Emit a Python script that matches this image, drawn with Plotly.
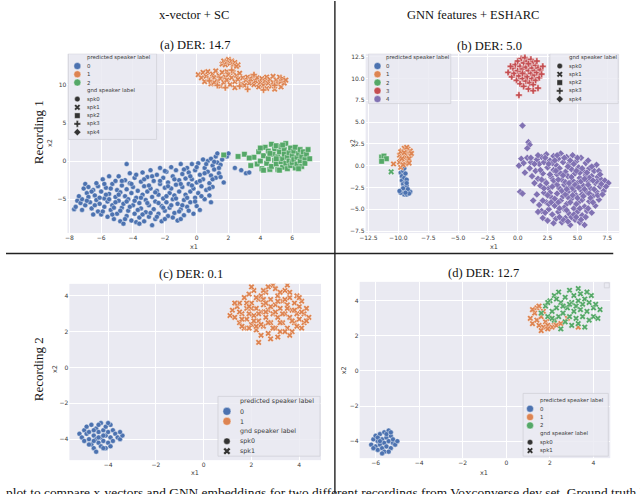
import plotly.graph_objects as go

W, H = 640, 494

# ---- data ----
PALETTE = ["#4C72B0", "#DD8452", "#55A868", "#C44E52", "#8172B3"]
SYMBOLS = ["circle", "x", "square", "cross", "diamond"]
pred_labels = ["0", "1", "2", "3", "4"]
gnd_labels = ["spk0", "spk1", "spk2", "spk3", "spk4"]

# (a) x-vector + SC, recording 1
a_pred0_spk0 = [
    (-7.7, -6.3), (-7.6, -6.0), (-7.5, -5.2), (-7.3, -5.5), (-7.2, -5.0), (-7.0, -5.8), (-7.1, -3.6), (-7.0, -3.0),
    (-6.9, -4.2), (-6.8, -4.7), (-6.7, -5.4), (-6.6, -6.2), (-6.5, -3.8), (-6.4, -4.5), (-6.3, -5.1), (-6.2, -6.6),
    (-6.2, -3.3), (-6.1, -5.6), (-6.0, -4.0), (-6.0, -7.0), (-5.9, -2.4), (-5.8, -4.9), (-5.8, -6.0), (-5.7, -3.5),
    (-5.6, -5.3), (-5.6, -7.3), (-5.5, -2.0), (-5.5, -4.3), (-5.4, -6.4), (-5.3, -3.0), (-5.3, -5.8), (-5.2, -7.6),
    (-5.1, -2.6), (-5.1, -4.7), (-5.0, -3.8), (-5.0, -6.9), (-4.9, -5.2), (-4.9, -2.0), (-4.8, -7.9), (-4.8, -4.1),
    (-4.7, -6.1), (-4.7, -3.2), (-4.6, -5.6), (-4.6, -8.2), (-4.5, -2.5), (-4.5, -4.6), (-4.4, -7.2), (-4.4, -3.7),
    (-4.3, -6.5), (-4.3, -5.0), (-4.2, -1.6), (-4.2, -2.9), (-4.1, -7.8), (-4.1, -4.2), (-4.0, -5.8), (-4.0, -3.4),
    (-3.9, -6.9), (-3.9, -2.2), (-3.8, -4.8), (-3.8, -8.0), (-4.4, -0.4), (-3.7, -3.9), (-3.6, -5.5), (-3.6, -7.4),
    (-3.5, -2.7), (-3.5, -6.2), (-3.4, -4.4), (-3.4, -1.5), (-3.3, -7.9), (-3.3, -3.3), (-3.2, -5.1), (-3.2, -6.7),
    (-3.1, -2.1), (-3.1, -4.0), (-3.0, -7.3), (-3.0, -5.8), (-2.9, -1.2), (-2.9, -3.6), (-2.8, -8.4), (-2.8, -4.7),
    (-2.7, -6.3), (-2.7, -2.6), (-2.6, -5.3), (-2.6, -7.6), (-2.5, -1.8), (-2.5, -3.9), (-2.4, -6.9), (-2.4, -4.4),
    (-2.3, -0.9), (-2.3, -3.0), (-2.2, -5.9), (-2.2, -7.9), (-2.1, -2.2), (-2.1, -4.9), (-2.0, -6.5), (-2.0, -3.5),
    (-1.9, -1.4), (-1.9, -5.4), (-1.8, -7.2), (-1.8, -2.8), (-1.7, -4.2), (-1.7, -6.1), (-1.6, -0.8), (-1.6, -3.6),
    (-1.5, -5.0), (-1.5, -2.0), (-1.4, -6.8), (-1.4, -4.5), (-1.3, -1.2), (-1.3, -3.1), (-1.2, -7.8), (-1.2, -5.6),
    (-1.1, -2.5), (-1.1, -4.0), (-1.0, -0.4), (-1.0, -6.3), (-0.9, -3.4), (-0.9, -1.7), (-0.8, -5.1), (-0.8, -7.1),
    (-0.7, -2.3), (-0.7, -4.4), (-0.6, -0.9), (-0.6, -6.0), (-0.5, -3.0), (-0.5, -1.5), (-0.4, -5.4), (-0.4, -4.0),
    (-0.3, -0.4), (-0.3, -2.4), (-0.2, -6.9), (-0.2, -3.6), (-0.1, -1.2), (-0.1, -4.8), (0.0, -5.9), (0.0, -2.8),
    (0.1, -0.3), (0.1, -4.2), (0.2, -1.8), (0.2, -6.4), (0.3, -3.3), (0.4, 0.2), (0.4, -2.4), (0.5, -5.0),
    (0.5, -0.9), (0.6, -3.8), (0.7, -1.4), (0.7, 0.0), (0.8, -2.9), (0.8, -4.5), (0.9, 0.3), (0.9, -1.9),
    (1.0, -0.6), (1.0, -3.4), (1.1, -1.1), (1.2, 0.6), (1.2, -2.2), (1.3, 1.0), (1.3, -0.2), (1.4, -1.6),
    (1.5, -0.5), (1.6, 0.2), (1.7, -2.8), (1.9, 0.6), (2.0, 1.0), (2.4, -0.9), (2.8, -1.2), (3.1, -1.6),
    (3.3, -1.5), (0.9, -5.4),
    (-7.4, -4.6), (-7.2, -6.4), (-6.9, -5.2), (-6.8, -3.4), (-6.6, -4.0), (-6.4, -5.8), (-6.3, -2.9), (-6.1, -4.8),
    (-5.9, -6.6), (-5.8, -3.0), (-5.7, -4.4), (-5.5, -5.0), (-5.4, -3.6), (-5.2, -6.1), (-5.1, -5.4), (-4.9, -4.4),
    (-4.8, -6.5), (-4.7, -2.6), (-4.5, -7.6), (-4.4, -5.3), (-4.2, -6.0), (-4.1, -3.0), (-3.9, -5.2), (-3.8, -1.8),
    (-3.7, -6.4), (-3.5, -4.8), (-3.4, -7.0), (-3.3, -2.4), (-3.1, -5.5), (-3.0, -3.2), (-2.9, -6.8), (-2.8, -2.0),
    (-2.6, -4.1), (-2.5, -7.3), (-2.4, -5.5), (-2.3, -2.6), (-2.1, -6.1), (-2.0, -1.3), (-1.9, -4.6), (-1.8, -3.3),
    (-1.6, -5.8), (-1.5, -7.4), (-1.4, -2.4), (-1.3, -4.9), (-1.1, -6.6), (-1.0, -3.0), (-0.9, -5.8), (-0.8, -1.1),
    (-0.6, -4.8), (-0.5, -6.5), (-0.4, -2.0), (-0.3, -3.2), (-0.1, -5.3), (0.0, -0.8), (0.2, -2.6), (0.3, -4.6),
    (0.5, -1.6), (0.6, -0.4), (0.8, -3.6), (1.0, -2.4), (1.1, -0.1), (1.4, -0.9), (1.5, -2.1), (-6.5, -7.0),
    (-5.3, -7.0), (-3.6, -8.2), (-2.0, -7.6), (-1.0, -7.6),
]
a_pred1_spk1 = [
    (0.1, 11.3), (0.3, 10.9), (0.4, 11.6), (0.5, 10.4), (0.6, 11.1), (0.7, 11.7), (0.8, 10.8), (0.9, 10.1),
    (1.0, 11.4), (1.1, 10.9), (1.2, 11.8), (1.3, 10.5), (1.4, 11.2), (1.5, 9.8), (1.5, 10.8), (1.6, 11.6),
    (1.7, 10.3), (1.8, 11.0), (1.9, 11.7), (1.9, 10.6), (2.0, 11.3), (2.1, 10.0), (2.2, 10.9), (2.3, 11.6),
    (2.4, 10.4), (2.5, 11.2), (2.6, 10.7), (2.7, 11.5), (2.8, 10.1), (2.9, 10.9), (1.6, 12.7), (1.7, 13.1),
    (1.8, 12.6), (1.9, 13.0), (2.0, 13.3), (2.1, 12.8), (2.2, 13.1), (2.3, 12.6), (2.4, 12.9), (2.6, 12.6),
    (2.5, 12.4), (3.1, 10.6), (3.2, 11.0), (3.3, 10.2), (3.4, 10.7), (3.5, 11.1), (3.6, 10.0), (3.7, 10.5),
    (3.8, 10.9), (3.9, 9.7), (4.0, 10.3), (4.1, 10.8), (4.2, 9.9), (4.3, 10.5), (4.4, 11.0), (4.4, 9.5),
    (4.5, 10.2), (4.6, 10.7), (4.7, 9.8), (4.8, 11.1), (4.8, 10.3), (4.9, 9.4), (5.0, 10.6), (5.1, 10.1),
    (5.2, 11.0), (5.3, 9.7), (5.3, 10.4), (5.4, 10.8), (5.5, 10.2), (5.6, 10.6), (2.4, 9.6), (3.0, 9.9),
    (1.1, 10.3),
]
a_pred1_spk3 = [(1.3, 9.9), (1.8, 9.6), (2.7, 9.8), (3.2, 9.4), (4.2, 9.3), (4.9, 9.9), (0.8, 10.5), (3.6, 11.3), (2.2, 11.9)]
a_pred2_spk2 = [
    (1.7, 0.8), (2.6, 0.6), (3.0, 0.9), (3.4, -0.6), (3.6, 0.5), (3.9, 1.2), (3.8, -0.4), (4.0, 0.0),
    (4.1, -1.0), (4.2, 0.7), (4.3, 1.8), (4.4, -0.3), (4.5, 0.3), (4.5, 1.3), (4.6, -1.1), (4.7, 2.2),
    (4.7, -0.7), (4.8, 0.9), (4.9, 0.1), (4.9, 1.6), (5.0, -0.4), (5.0, 2.0), (5.1, -1.1), (5.1, 0.6),
    (5.2, 1.2), (5.3, -0.1), (5.3, 1.9), (5.4, 0.3), (5.4, -0.8), (5.5, 1.5), (5.5, 0.9), (5.6, -0.3),
    (5.6, 2.3), (5.7, 0.5), (5.7, -1.0), (5.8, 1.1), (5.8, 0.0), (5.9, 1.7), (5.9, -0.6), (6.0, 0.7),
    (6.0, -0.2), (6.1, 1.3), (6.1, 0.2), (6.2, -0.9), (6.2, 1.8), (6.3, 0.5), (6.3, -0.4), (6.4, 1.0),
    (6.5, 0.0), (6.5, 1.5), (6.6, -0.7), (6.6, 0.6), (6.7, 1.2), (6.8, 0.2), (6.8, -0.3), (6.9, 0.9),
    (7.0, 1.5), (7.1, 0.3), (4.2, -1.2), (5.2, -1.2), (4.6, 1.0), (5.0, 0.3), (3.3, 0.4), (6.4, -1.0),
    (5.4, 2.1), (4.0, 1.7),
]

# (b) GNN features + ESHARC, recording 1
b_pred0_spk0 = [
    (-9.8, -0.8), (-9.7, -1.2), (-9.6, -0.6), (-9.7, -1.7), (-9.5, -1.4), (-9.6, -2.1), (-9.4, -1.9), (-9.5, -2.5),
    (-9.7, -2.8), (-9.3, -2.3), (-9.6, -3.0), (-9.4, -2.9), (-9.2, -3.1), (-9.5, -3.3), (-9.0, -3.0), (-9.3, -3.3),
    (-9.8, -3.1), (-9.4, -0.9), (-9.3, -1.6), (-9.6, -2.6), (-9.2, -2.7), (-9.5, -0.3), (-9.1, -3.2), (-9.9, -2.9),
    (-9.4, -3.1), (-9.3, -2.0),
]
b_pred1_spk1 = [
    (-10.4, 0.2), (-9.8, -0.2), (-9.9, 0.4), (-9.8, 0.9), (-9.6, 1.3), (-9.7, 1.7), (-9.5, 0.7), (-9.4, 1.0),
    (-9.3, 1.5), (-9.2, 0.5), (-9.5, 2.0), (-9.2, 1.9), (-9.0, 1.2), (-9.1, 0.8), (-9.4, 0.2), (-9.9, 1.2),
    (-9.0, 1.7), (-9.6, 0.1), (-9.3, 2.1), (-8.9, 1.4), (-9.8, 1.6), (-9.5, 1.5), (-9.1, 0.3), (-9.7, 0.8),
]
b_pred2_spk2 = [(-11.4, 1.0), (-11.2, 1.1), (-11.0, 0.8), (-11.4, 0.5)]
b_pred2_spk1 = [(-10.6, -0.7)]
b_pred3_spk3 = [
    (-0.8, 10.7), (-0.5, 10.2), (-0.4, 11.2), (-0.3, 10.6), (-0.2, 11.6), (-0.1, 9.8), (0.0, 10.9), (0.0, 12.0),
    (0.1, 10.3), (0.2, 11.4), (0.2, 9.4), (0.3, 10.8), (0.3, 12.3), (0.4, 10.0), (0.4, 11.1), (0.5, 11.8),
    (0.5, 9.1), (0.6, 10.5), (0.6, 12.4), (0.7, 9.7), (0.7, 11.3), (0.8, 10.2), (0.8, 12.0), (0.9, 10.9),
    (0.9, 8.8), (1.0, 11.6), (1.0, 9.5), (1.1, 10.6), (1.1, 12.2), (1.2, 10.0), (1.2, 11.2), (1.3, 9.3),
    (1.3, 11.9), (1.4, 10.4), (1.4, 10.9), (1.5, 11.5), (1.5, 9.8), (1.6, 10.7), (1.7, 11.2), (1.7, 8.9),
    (1.8, 10.1), (1.9, 11.0), (2.0, 10.5), (2.1, 11.4), (0.1, 8.1), (0.4, 10.6), (0.9, 11.7), (1.6, 12.0),
    (-0.6, 11.4), (1.3, 8.6),
]
b_pred4_spk4 = [
    (0.4, 4.6), (0.9, 2.7), (1.0, 2.4), (0.8, 2.0), (0.3, 0.8), (0.1, 0.0), (0.5, 0.3), (0.8, 0.9),
    (1.0, -0.3), (1.1, 0.4), (0.6, -0.8), (0.2, -3.0), (0.4, -3.2), (1.5, -0.6), (1.6, 0.7), (1.7, -1.5),
    (1.8, 0.2), (1.9, -2.3), (2.0, 1.0), (2.1, -0.9), (2.2, -3.1), (2.2, 0.4), (2.3, -1.8), (2.4, -4.2),
    (2.4, 1.3), (2.5, -0.2), (2.6, -2.6), (2.6, -5.0), (2.7, 0.6), (2.8, -1.3), (2.8, -3.6), (2.9, -5.6),
    (3.0, -0.5), (3.0, 1.1), (3.1, -2.1), (3.1, -4.6), (3.2, 0.1), (3.2, -6.1), (3.3, -1.0), (3.3, -3.2),
    (3.4, 0.8), (3.4, -5.3), (3.5, -2.6), (3.5, -0.3), (3.6, -4.0), (3.6, 1.4), (3.7, -1.6), (3.7, -6.5),
    (3.8, -3.5), (3.8, 0.4), (3.9, -5.0), (3.9, -2.2), (4.0, -0.7), (4.0, -6.0), (4.1, 1.0), (4.1, -4.4),
    (4.2, -1.2), (4.2, -3.0), (4.3, 0.2), (4.3, -5.5), (4.4, -2.4), (4.4, -6.8), (4.5, -0.4), (4.5, -3.8),
    (4.6, -1.7), (4.6, 1.2), (4.7, -4.9), (4.7, -2.9), (4.8, -0.9), (4.8, -6.2), (4.9, 0.5), (4.9, -3.4),
    (5.0, -2.0), (5.0, -5.3), (5.1, -0.2), (5.1, -4.2), (5.2, -1.4), (5.2, -6.5), (5.3, -2.8), (5.3, 0.9),
    (5.4, -3.9), (5.4, -5.7), (5.5, -0.6), (5.5, -2.3), (5.6, -4.7), (5.6, -6.8), (5.7, -1.1), (5.7, 0.3),
    (5.8, -3.1), (5.8, -5.2), (5.9, -1.8), (6.0, -4.1), (6.0, -0.3), (6.1, -2.6), (6.2, -5.4), (6.2, -1.2),
    (6.3, -3.5), (6.4, -0.6), (6.5, -2.0), (6.5, -4.6), (6.6, -3.0), (6.7, -1.3), (6.8, -3.9), (6.9, -2.4),
    (7.0, -1.6), (7.2, -2.9), (7.3, -1.7), (7.6, -2.0), (1.2, -1.2), (1.4, -2.0), (1.6, -3.3), (1.8, -4.5),
    (2.0, -5.2), (1.3, -4.0), (2.1, -6.0), (2.5, -6.3), (3.0, -6.6), (1.7, -5.3), (2.3, 0.9), (2.9, 0.3),
    (3.6, -0.9), (4.4, 0.6), (5.0, 0.9), (5.9, 0.6), (6.6, 0.1), (6.8, -0.6), (4.0, -1.9), (3.3, -2.2),
    (2.7, -3.1), (4.6, -2.6), (5.4, -3.3), (3.9, -4.8), (4.9, -4.4), (3.4, -4.2), (2.4, -2.0), (6.0, -3.2),
    (5.2, -0.8), (3.8, -6.2), (4.5, -5.9), (5.9, -4.9), (4.2, -3.6), (3.0, -1.7), (1.9, -0.5), (2.6, -4.4),
    (1.1, 0.9), (1.4, 0.2), (1.7, 1.2), (2.0, -1.6), (2.2, -2.6), (2.5, -3.4), (2.7, -1.0), (2.9, -2.4),
    (3.1, -3.8), (3.2, -0.6), (3.4, -1.6), (3.5, -4.9), (3.7, -2.9), (3.8, -1.1), (4.0, -3.3), (4.1, -5.1),
    (4.2, -0.1), (4.3, -2.0), (4.4, -4.2), (4.5, -1.3), (4.6, -3.4), (4.7, -5.6), (4.8, -2.2), (4.9, -0.6),
    (5.0, -3.7), (5.1, -2.5), (5.2, -4.9), (5.3, -1.8), (5.4, -0.3), (5.5, -3.5), (5.6, -2.7), (5.7, -5.9),
    (5.8, -0.8), (5.9, -2.2), (6.0, -1.4), (6.1, -3.7), (6.2, -0.1), (6.3, -4.2), (6.4, -2.7), (6.6, -1.8),
    (6.7, -3.4), (7.0, -2.1), (7.1, -3.3), (6.9, -1.0), (7.4, -2.4), (3.9, 0.9), (3.3, 1.2), (2.6, 0.2),
    (2.1, -4.0), (2.3, -5.4), (2.8, -4.2), (3.5, -5.9), (4.2, -6.4), (4.9, -5.9), (5.3, -6.2), (6.3, -1.7),
    (3.1, 0.6), (4.7, 0.2), (5.6, -1.5), (4.1, -2.7),
]

# (c) x-vector + SC, recording 2
c_pred0_spk0 = [
    (-5.2, -3.7), (-5.1, -3.9), (-5.0, -3.5), (-5.0, -4.1), (-4.9, -3.7), (-4.9, -3.3), (-4.8, -4.0), (-4.8, -3.6),
    (-4.7, -4.3), (-4.7, -3.2), (-4.6, -3.8), (-4.6, -4.5), (-4.5, -3.4), (-4.5, -4.0), (-4.5, -4.7), (-4.4, -3.6),
    (-4.4, -4.2), (-4.3, -3.1), (-4.3, -3.9), (-4.3, -4.4), (-4.2, -3.5), (-4.2, -4.1), (-4.1, -3.3), (-4.1, -3.8),
    (-4.1, -4.5), (-4.0, -3.6), (-4.0, -4.2), (-3.9, -3.2), (-3.9, -3.9), (-3.8, -3.5), (-3.8, -4.1), (-3.7, -3.7),
    (-3.6, -3.9), (-3.5, -4.0), (-3.4, -3.8), (-3.5, -3.6), (-4.6, -3.5), (-4.4, -3.2), (-4.0, -3.1), (-4.8, -4.3),
    (-4.2, -4.5), (-3.9, -4.4), (-4.6, -4.1), (-4.4, -3.9), (-4.2, -3.8),
]
c_pred1_spk1 = [
    (1.1, 2.9), (1.2, 3.2), (1.3, 2.8), (1.4, 3.4), (1.5, 2.5), (1.5, 3.6), (1.6, 3.0), (1.7, 3.9),
    (1.7, 2.2), (1.8, 3.3), (1.8, 2.7), (1.9, 4.1), (1.9, 3.0), (2.0, 2.4), (2.0, 3.6), (2.1, 2.9),
    (2.1, 4.3), (2.2, 3.3), (2.2, 2.1), (2.3, 3.8), (2.3, 1.4), (2.3, 2.6), (2.4, 3.1), (2.4, 4.0),
    (2.5, 2.3), (2.5, 3.5), (2.6, 2.8), (2.6, 4.2), (2.7, 1.9), (2.7, 3.2), (2.8, 3.8), (2.8, 2.5),
    (2.9, 3.0), (2.9, 4.6), (3.0, 2.2), (3.0, 3.5), (3.1, 2.8), (3.1, 4.0), (3.2, 3.3), (3.2, 2.0),
    (3.3, 3.7), (3.3, 2.5), (3.4, 3.0), (3.4, 4.3), (3.5, 2.2), (3.5, 3.5), (3.6, 2.8), (3.6, 3.9),
    (3.7, 3.2), (3.7, 2.0), (3.8, 3.6), (3.8, 2.5), (3.9, 3.0), (3.9, 4.0), (4.0, 2.7), (4.0, 3.4),
    (4.1, 2.2), (4.1, 3.7), (4.2, 3.0), (4.2, 2.5), (4.3, 3.3), (4.4, 2.8), (2.0, 4.5), (2.5, 4.3),
    (2.2, 2.3), (1.6, 2.3), (3.0, 4.4), (3.5, 4.6), (2.8, 1.6), (3.6, 1.8),
    (1.3, 3.6), (1.5, 3.1), (1.6, 2.7), (1.8, 3.6), (1.9, 2.2), (2.0, 3.3), (2.1, 2.6), (2.2, 3.9),
    (2.3, 3.0), (2.4, 2.4), (2.5, 3.8), (2.6, 3.1), (2.7, 2.5), (2.7, 4.5), (2.8, 3.4), (2.9, 2.2),
    (3.0, 3.1), (3.1, 3.7), (3.2, 2.5), (3.2, 4.2), (3.3, 3.0), (3.4, 2.0), (3.5, 3.3), (3.6, 4.2),
    (3.7, 2.6), (3.8, 3.2), (3.9, 2.3), (4.0, 3.9), (4.1, 3.1), (4.3, 2.6), (2.4, 1.8), (3.1, 1.7),
    (1.9, 3.4), (2.6, 3.6), (3.4, 3.8),
]

# (d) GNN features + ESHARC, recording 2
d_pred0_spk0 = [
    (-6.2, -4.2), (-6.1, -3.9), (-6.0, -4.3), (-6.0, -3.7), (-5.9, -4.0), (-5.9, -4.5), (-5.8, -3.6), (-5.8, -4.2),
    (-5.7, -3.9), (-5.7, -4.4), (-5.6, -3.5), (-5.6, -4.1), (-5.6, -4.6), (-5.5, -3.8), (-5.5, -4.3), (-5.4, -3.4),
    (-5.4, -4.0), (-5.3, -4.4), (-5.3, -3.7), (-5.2, -4.1), (-5.2, -3.9), (-5.1, -4.2), (-5.0, -4.0), (-5.9, -3.8),
    (-5.7, -4.7), (-5.4, -4.6), (-6.1, -4.4), (-5.5, -3.6), (-5.8, -4.0), (-5.3, -3.5),
]
d_pred1_spk1 = [
    (1.1, 3.0), (1.2, 2.7), (1.3, 3.3), (1.4, 2.9), (1.4, 3.6), (1.5, 2.6), (1.6, 3.1), (1.7, 2.5),
    (1.7, 3.4), (1.8, 2.8), (1.9, 2.6), (2.0, 3.0), (2.1, 2.5), (2.2, 2.8), (2.3, 2.6), (1.5, 3.7),
    (1.2, 3.5), (1.9, 2.4), (3.3, 2.5), (2.5, 2.7), (2.8, 3.0), (1.6, 2.3),
]
d_pred2_spk1 = [
    (1.6, 3.3), (1.8, 3.7), (1.9, 3.1), (2.0, 4.0), (2.1, 3.4), (2.2, 2.9), (2.2, 4.3), (2.3, 3.6),
    (2.4, 3.1), (2.4, 4.5), (2.5, 2.4), (2.5, 3.9), (2.6, 3.3), (2.7, 4.2), (2.7, 2.8), (2.8, 3.6),
    (2.9, 4.6), (2.9, 3.1), (3.0, 3.9), (3.0, 2.6), (3.1, 3.4), (3.1, 4.3), (3.2, 3.0), (3.2, 3.7),
    (3.3, 4.0), (3.3, 2.7), (3.4, 3.5), (3.4, 4.4), (3.5, 3.1), (3.5, 3.8), (3.6, 2.5), (3.6, 4.1),
    (3.7, 3.4), (3.8, 3.9), (3.8, 2.9), (3.9, 4.3), (4.0, 3.6), (4.0, 3.1), (4.1, 3.8), (4.2, 3.0),
    (4.3, 3.5), (2.3, 4.1), (2.6, 3.7), (2.9, 3.8), (3.3, 4.7), (1.9, 3.9), (2.1, 3.0), (3.7, 4.5),
]

# ---- panel geometry (pixels) ----
panels = {
    "a": dict(n="", px=(62, 317), py=(53, 233), xr=(-8.12, 7.75), yr=(-9.43, 14.04), dx=2, dy=5, fmt=None),
    "b": dict(n="2", px=(363, 619), py=(53, 233), xr=(-12.74, 8.5), yr=(-7.73, 12.84), dx=2.5, dy=2.5, fmt=".1f"),
    "c": dict(n="3", px=(64, 318), py=(284, 461), xr=(-5.62, 4.91), yr=(-5.17, 4.67), dx=2, dy=2, fmt=None),
    "d": dict(n="4", px=(357, 610), py=(282, 459), xr=(-6.73, 4.77), yr=(-4.97, 5.08), dx=2, dy=2, fmt=None),
}

groups = [
    ("a", a_pred0_spk0, 0, 0), ("a", a_pred1_spk1, 1, 1), ("a", a_pred1_spk3, 1, 3), ("a", a_pred2_spk2, 2, 2),
    ("b", b_pred0_spk0, 0, 0), ("b", b_pred1_spk1, 1, 1), ("b", b_pred2_spk2, 2, 2), ("b", b_pred2_spk1, 2, 1),
    ("b", b_pred3_spk3, 3, 3), ("b", b_pred4_spk4, 4, 4),
    ("c", c_pred0_spk0, 0, 0), ("c", c_pred1_spk1, 1, 1),
    ("d", d_pred0_spk0, 0, 0), ("d", d_pred1_spk1, 1, 1), ("d", d_pred2_spk1, 2, 1),
]

SANS = "DejaVu Sans"
SERIF = "Liberation Serif"
TXT = "#3a3a3a"


def fx(x):
    return x / W


def fy(y):
    return 1 - y / H


def to_data(p, x, y):
    x0, x1 = p["px"]
    y0, y1 = p["py"]
    dx = p["xr"][0] + (x - x0) / (x1 - x0) * (p["xr"][1] - p["xr"][0])
    dy = p["yr"][1] - (y - y0) / (y1 - y0) * (p["yr"][1] - p["yr"][0])
    return dx, dy


def label(text, x, y, size, family=SANS, color=TXT, angle=0, xanchor="center"):
    return dict(x=fx(x), y=fy(y), xref="paper", yref="paper", text=text, showarrow=False,
                xanchor=xanchor, yanchor="middle", textangle=angle,
                font=dict(family=family, size=size, color=color))


fig = go.Figure()
layout = dict(
    width=W, height=H, margin=dict(l=0, r=0, t=0, b=0),
    paper_bgcolor="white", plot_bgcolor="#EAEAF2", showlegend=False,
)
annotations = []
shapes = []

for key, p in panels.items():
    n = p["n"]
    ax = dict(
        domain=[fx(p["px"][0]), fx(p["px"][1])], range=list(p["xr"]), dtick=p["dx"], tick0=0,
        showgrid=True, gridcolor="white", gridwidth=1, zeroline=False, showline=False, ticks="",
        tickfont=dict(family=SANS, size=6, color=TXT), anchor="y" + n,
    )
    ay = dict(
        domain=[fy(p["py"][1]), fy(p["py"][0])], range=list(p["yr"]), dtick=p["dy"], tick0=0,
        showgrid=True, gridcolor="white", gridwidth=1, zeroline=False, showline=False, ticks="",
        tickfont=dict(family=SANS, size=6, color=TXT), anchor="x" + n,
    )
    if p["fmt"]:
        ax["tickformat"] = p["fmt"]
        ay["tickformat"] = p["fmt"]
    layout["xaxis" + n] = ax
    layout["yaxis" + n] = ay

for key, pts, pred, spk in groups:
    p = panels[key]
    sym = SYMBOLS[spk]
    fig.add_trace(go.Scatter(
        x=[q[0] for q in pts], y=[q[1] for q in pts], mode="markers",
        marker=dict(color=PALETTE[pred], symbol=sym, size=5 if sym == "circle" else 5.5,
                    line=dict(color="white", width=0.4)),
        xaxis="x" + p["n"], yaxis="y" + p["n"], hoverinfo="skip",
    ))


def draw_legend(key, box, mx, tx, y_first, step, npred, ngnd, fs, cs, ss, pred_part=True, gnd_part=True):
    p = panels[key]
    n = p["n"]
    bx0, by0 = to_data(p, box[0], box[1])
    bx1, by1 = to_data(p, box[2], box[3])
    shapes.append(dict(type="rect", xref="x" + n, yref="y" + n, x0=bx0, y0=by0, x1=bx1, y1=by1,
                       layer="between", fillcolor="rgba(234,234,242,0.85)",
                       line=dict(color="#d0d0d8", width=0.8)))
    rows = []
    if pred_part:
        rows.append(("predicted speaker label", None, None))
        for i in range(npred):
            rows.append((pred_labels[i], PALETTE[i], "circle"))
    if gnd_part:
        rows.append(("gnd speaker label", None, None))
        for i in range(ngnd):
            rows.append((gnd_labels[i], "#333333", SYMBOLS[i]))
    for i, (text, col, sym) in enumerate(rows):
        y = y_first + i * step
        annotations.append(label(text, tx, y, fs, xanchor="left"))
        if col is not None:
            mxd, myd = to_data(p, mx, y)
            fig.add_trace(go.Scatter(
                x=[mxd], y=[myd], mode="markers", cliponaxis=False, hoverinfo="skip",
                marker=dict(color=col, symbol=sym, size=cs if col != "#333333" else ss,
                            line=dict(color="white", width=0.4)),
                xaxis="x" + n, yaxis="y" + n,
            ))


draw_legend("a", (63, 53, 152, 139), 72, 80, 57, 8.3, 3, 5, 5.4, 7, 5.5)
draw_legend("b", (366, 53, 449, 103), 375, 382, 57, 8.3, 5, 0, 5.4, 7, 5.5, gnd_part=False)
draw_legend("b", (549, 53, 618, 103), 559, 566, 57, 8.3, 0, 5, 5.4, 7, 5.5, pred_part=False)
draw_legend("c", (214, 397, 317, 457), 223, 234, 402, 10, 2, 2, 6.3, 8, 6.5)
draw_legend("d", (522, 394, 608, 457), 529, 537, 401, 8.4, 3, 2, 5.4, 7, 5.5)

# tiny empty legend box in (d)
pd_ = panels["d"]
e0 = to_data(pd_, 604, 283)
e1 = to_data(pd_, 609, 288)
shapes.append(dict(type="rect", xref="x4", yref="y4", x0=e0[0], y0=e0[1], x1=e1[0], y1=e1[1],
                   layer="between", fillcolor="rgba(234,234,242,0.85)", line=dict(color="#d0d0d8", width=0.8)))

# axis titles
for key, (xlx, xly, ylx, yly) in {
    "a": (190, 247, 45, 143), "b": (493, 247, 351, 143),
    "c": (191, 474, 49, 370), "d": (483, 474, 342, 371),
}.items():
    annotations.append(label("x1", xlx, xly, 6.5))
    annotations.append(label("x2", ylx, yly, 6.5, angle=-90))

# headers and titles
texts = [
    ("x-vector + SC", 190, 14, 0), ("GNN features + ESHARC", 471, 14, 0),
    ("(a) DER: 14.7", 191, 44, 0), ("(b) DER: 5.0", 488, 45, 0),
    ("(c) DER: 0.1", 187, 274, 0), ("(d) DER: 12.7", 482, 273, 0),
    ("Recording 1", 33, 132, -90), ("Recording 2", 33, 370, -90),
]
for t, x, y, ang in texts:
    annotations.append(label(t, x, y, 13 if ang else 12.5, family=SERIF, color="#111111", angle=ang))

annotations.append(dict(
    x=fx(-2), y=fy(484), xref="paper", yref="paper", xanchor="left", yanchor="top", showarrow=False,
    text="plot to compare x-vectors and GNN embeddings for two different recordings from Voxconverse dev set. Ground truth labels are shown",
    font=dict(family=SERIF, size=13.4, color="#111111"),
))

# separator lines
shapes.append(dict(type="line", xref="paper", yref="paper", x0=fx(332), x1=fx(332), y0=0, y1=1,
                   line=dict(color="#222222", width=1.4)))
shapes.append(dict(type="line", xref="paper", yref="paper", x0=0, x1=fx(613), y0=fy(253.5), y1=fy(253.5),
                   line=dict(color="#222222", width=1.4)))

layout["annotations"] = annotations
layout["shapes"] = shapes
fig.update_layout(**layout)
fig.write_html("out.html", config={"displayModeBar": False},
               post_script="document.body.style.margin='0px';")
